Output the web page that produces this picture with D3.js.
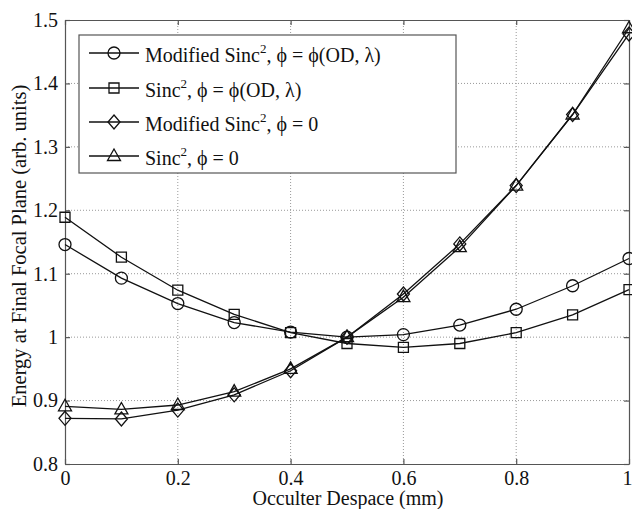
<!DOCTYPE html>
<html><head><meta charset="utf-8">
<script src="https://cdn.jsdelivr.net/npm/d3@7"></script>
<style>body{margin:0;background:#fff}svg{display:block}text{font-family:"Liberation Serif","Times New Roman",Times,"DejaVu Serif",serif;fill:#111}</style>
</head><body><svg id="c" width="632" height="509"></svg>
<script>
const xValues = [0, 0.1, 0.2, 0.3, 0.4, 0.5, 0.6, 0.7, 0.8, 0.9, 1.0];
const modSincPhi = [1.146, 1.093, 1.053, 1.023, 1.008, 1.000, 1.004, 1.019, 1.044, 1.081, 1.124];
const sincPhi    = [1.189, 1.126, 1.074, 1.036, 1.007, 0.990, 0.984, 0.990, 1.007, 1.035, 1.075];
const modSinc0   = [0.872, 0.871, 0.885, 0.909, 0.947, 1.000, 1.068, 1.147, 1.239, 1.351, 1.478];
const sinc0      = [0.891, 0.886, 0.893, 0.914, 0.950, 1.000, 1.063, 1.142, 1.239, 1.351, 1.487];
const xTicks = [0, 0.2, 0.4, 0.6, 0.8, 1];
const xTickLabels = ["0", "0.2", "0.4", "0.6", "0.8", "1"];
const yTicks = [0.8, 0.9, 1.0, 1.1, 1.2, 1.3, 1.4, 1.5];
const yTickLabels = ["0.8", "0.9", "1", "1.1", "1.2", "1.3", "1.4", "1.5"];
const seriesNames = ["Modified Sinc", "Sinc", "Modified Sinc", "Sinc"];
const seriesSuffix = [", \u03d5 = \u03d5(OD, \u03bb)", ", \u03d5 = \u03d5(OD, \u03bb)", ", \u03d5 = 0", ", \u03d5 = 0"];
const seriesMarkers = ["circle", "square", "diamond", "triangle"];
const xLabel = "Occulter Despace (mm)";
const yLabel = "Energy at Final Focal Plane (arb. units)";

const series = [modSincPhi, sincPhi, modSinc0, sinc0];
const FONT = '"Liberation Serif","Times New Roman",Times,"DejaVu Serif",serif';

const L = 65, R = 629, T = 20, B = 464;
const svg = d3.select("#c");
const x = d3.scaleLinear().domain([0, 1]).range([L, R]);
const y = d3.scaleLinear().domain([0.8, 1.5]).range([B, T]);

// grid
const grid = svg.append("g").attr("stroke", "#999").attr("stroke-width", 1).attr("stroke-dasharray", "1,2");
xTicks.slice(1, -1).forEach(t => grid.append("line").attr("x1", x(t)).attr("x2", x(t)).attr("y1", T).attr("y2", B));
yTicks.slice(1, -1).forEach(t => grid.append("line").attr("x1", L).attr("x2", R).attr("y1", y(t)).attr("y2", y(t)));

// axes (MATLAB style: ticks inside, box)
const axB = d3.axisBottom(x).tickValues(xTicks).tickFormat((d, i) => xTickLabels[i]).tickSizeInner(-5).tickSizeOuter(0).tickPadding(7);
const axL = d3.axisLeft(y).tickValues(yTicks).tickFormat((d, i) => yTickLabels[i]).tickSizeInner(-5).tickSizeOuter(0).tickPadding(7);
const axT = d3.axisTop(x).tickValues(xTicks).tickFormat("").tickSizeInner(-5).tickSizeOuter(0);
const axR = d3.axisRight(y).tickValues(yTicks).tickFormat("").tickSizeInner(-5).tickSizeOuter(0);
function styleAx(g) {
  g.attr("font-family", FONT).attr("font-size", 20);
  g.selectAll("path,line").attr("stroke", "#555").attr("stroke-width", 1.2);
  g.selectAll("text").attr("fill", "#111");
}
const gB = svg.append("g").attr("transform", `translate(0,${B})`).call(axB).call(styleAx);
gB.selectAll(".tick text").filter(d => d === 1).attr("dx", -2);
svg.append("g").attr("transform", `translate(${L},0)`).call(axL).call(styleAx);
svg.append("g").attr("transform", `translate(0,${T})`).call(axT).call(styleAx);
svg.append("g").attr("transform", `translate(${R},0)`).call(axR).call(styleAx);

// axis labels
svg.append("text").attr("x", 348).attr("y", 505).attr("text-anchor", "middle").attr("font-family", FONT).attr("font-size", 20).text(xLabel);
svg.append("text").attr("transform", `translate(26,246) rotate(-90)`).attr("text-anchor", "middle").attr("font-family", FONT).attr("font-size", 20.5).text(yLabel);

// markers
function marker(g, type, cx, cy) {
  const s = g.append("path").attr("fill", "none").attr("stroke", "#111").attr("stroke-width", 1.3);
  if (type === "circle") s.attr("d", `M${cx + 6},${cy}A6,6 0 1,1 ${cx - 6},${cy}A6,6 0 1,1 ${cx + 6},${cy}Z`);
  else if (type === "square") s.attr("d", `M${cx - 5},${cy - 5}h10v10h-10Z`);
  else if (type === "diamond") s.attr("d", `M${cx},${cy - 7}L${cx + 6},${cy}L${cx},${cy + 7}L${cx - 6},${cy}Z`);
  else s.attr("d", `M${cx},${cy - 7}L${cx + 6.5},${cy + 4.5}L${cx - 6.5},${cy + 4.5}Z`);
}

const line = d3.line().x((d, i) => x(xValues[i])).y(d => y(d));
series.forEach((vals, k) => {
  const g = svg.append("g");
  g.append("path").datum(vals).attr("d", line).attr("fill", "none").attr("stroke", "#111").attr("stroke-width", 1.3);
  vals.forEach((v, i) => marker(g, seriesMarkers[k], x(xValues[i]), y(v)));
});

// legend
const lg = svg.append("g");
lg.append("rect").attr("x", 79).attr("y", 35).attr("width", 377).attr("height", 138).attr("fill", "#fff").attr("stroke", "#555").attr("stroke-width", 1.2);
const rowY = [53, 88, 122, 156];
seriesNames.forEach((n, k) => {
  lg.append("line").attr("x1", 89).attr("x2", 139).attr("y1", rowY[k]).attr("y2", rowY[k]).attr("stroke", "#111").attr("stroke-width", 1.3);
  marker(lg, seriesMarkers[k], 114, rowY[k]);
  const t = lg.append("text").attr("x", 145).attr("y", rowY[k] + 9).attr("font-family", FONT).attr("font-size", 20);
  t.append("tspan").text(n);
  t.append("tspan").attr("dy", -9).attr("font-size", 13).text("2");
  t.append("tspan").attr("dy", 9).text(seriesSuffix[k]);
});
</script></body></html>
